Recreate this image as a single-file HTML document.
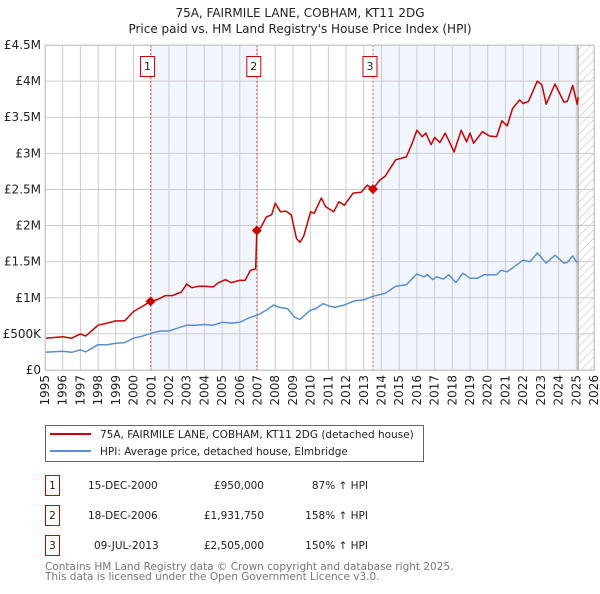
<!DOCTYPE html>
<html><head><meta charset="utf-8"><style>
body{margin:0;background:#fff;font-family:"DejaVu Sans","Liberation Sans",sans-serif;}
svg text{font-family:"DejaVu Sans","Liberation Sans",sans-serif;}
</style></head><body>
<svg id="c" width="600" height="590" viewBox="0 0 600 590" xmlns="http://www.w3.org/2000/svg">
<defs><pattern id="hatch" width="6" height="6" patternUnits="userSpaceOnUse" patternTransform="rotate(45)"><line x1="0" y1="0" x2="0" y2="6" stroke="#bbb" stroke-width="1"/></pattern></defs>
<text x="300" y="17" text-anchor="middle" font-size="12" fill="#222">75A, FAIRMILE LANE, COBHAM, KT11 2DG</text>
<text x="300" y="33" text-anchor="middle" font-size="12" fill="#222">Price paid vs. HM Land Registry's House Price Index (HPI)</text>
<g id="plot"></g>
<g>
<rect x="45.5" y="425.5" width="378" height="36" fill="#fff" stroke="#666"/>
<line x1="50" y1="434" x2="91" y2="434" stroke="#cc0000" stroke-width="2"/>
<text x="100" y="438" font-size="10.5" fill="#222">75A, FAIRMILE LANE, COBHAM, KT11 2DG (detached house)</text>
<line x1="50" y1="451" x2="91" y2="451" stroke="#5b8fd4" stroke-width="2"/>
<text x="100" y="455" font-size="10.5" fill="#222">HPI: Average price, detached house, Elmbridge</text>
</g>
<g font-size="10.5" fill="#222">
<g><rect x="45.5" y="475.5" width="14" height="20" fill="#fff" stroke="#cc0000"/><text x="52.5" y="489" text-anchor="middle">1</text><text x="88" y="489">15-DEC-2000</text><text x="264" y="489" text-anchor="end">£950,000</text><text x="368" y="489" text-anchor="end">87% ↑ HPI</text></g>
<g><rect x="45.5" y="505.5" width="14" height="20" fill="#fff" stroke="#cc0000"/><text x="52.5" y="519" text-anchor="middle">2</text><text x="88" y="519">18-DEC-2006</text><text x="264" y="519" text-anchor="end">£1,931,750</text><text x="368" y="519" text-anchor="end">158% ↑ HPI</text></g>
<g><rect x="45.5" y="535.5" width="14" height="20" fill="#fff" stroke="#cc0000"/><text x="52.5" y="549" text-anchor="middle">3</text><text x="94" y="549">09-JUL-2013</text><text x="264" y="549" text-anchor="end">£2,505,000</text><text x="368" y="549" text-anchor="end">150% ↑ HPI</text></g>
</g>
<text x="45" y="570" font-size="10.5" fill="#777">Contains HM Land Registry data © Crown copyright and database right 2025.</text>
<text x="45" y="580" font-size="10.5" fill="#777">This data is licensed under the Open Government Licence v3.0.</text>
</svg>
<script>
const yTicks=[0,0.5,1,1.5,2,2.5,3,3.5,4,4.5];
const yTickLabels=["£0","£500K","£1M","£1.5M","£2M","£2.5M","£3M","£3.5M","£4M","£4.5M"];
const xYears=[1995,1996,1997,1998,1999,2000,2001,2002,2003,2004,2005,2006,2007,2008,2009,2010,2011,2012,2013,2014,2015,2016,2017,2018,2019,2020,2021,2022,2023,2024,2025,2026];
const redT=[1995,1996,1996.5,1997,1997.3,1998,1998.5,1999,1999.5,2000,2000.5,2000.96,2001.3,2001.8,2002.2,2002.7,2003,2003.3,2003.7,2004,2004.5,2004.8,2005.2,2005.5,2006,2006.3,2006.6,2006.9,2006.96,2007.2,2007.5,2007.8,2008,2008.3,2008.6,2008.9,2009.2,2009.4,2009.6,2010,2010.2,2010.6,2010.85,2011.3,2011.6,2011.9,2012.4,2012.85,2013.2,2013.52,2013.9,2014.2,2014.8,2015.4,2015.7,2016,2016.3,2016.5,2016.8,2017,2017.3,2017.6,2018.1,2018.5,2018.8,2019,2019.2,2019.7,2020.1,2020.5,2020.8,2021.1,2021.4,2021.8,2022,2022.3,2022.8,2023.05,2023.3,2023.8,2024.3,2024.5,2024.8,2025.05,2025.1];
const redV=[0.44,0.46,0.44,0.50,0.47,0.62,0.65,0.68,0.68,0.81,0.88,0.95,0.97,1.03,1.03,1.08,1.19,1.14,1.16,1.16,1.15,1.21,1.25,1.21,1.24,1.24,1.38,1.40,1.93,1.98,2.12,2.15,2.31,2.19,2.20,2.15,1.82,1.77,1.85,2.19,2.17,2.38,2.26,2.19,2.33,2.28,2.45,2.46,2.56,2.505,2.63,2.68,2.91,2.95,3.12,3.32,3.23,3.28,3.12,3.22,3.15,3.28,3.02,3.32,3.16,3.28,3.14,3.30,3.24,3.23,3.45,3.38,3.62,3.74,3.69,3.72,4.00,3.95,3.68,3.96,3.71,3.72,3.94,3.68,3.78];
const hpiT=[1995,1996,1996.5,1997,1997.3,1998,1998.5,1999,1999.5,2000,2000.5,2001,2001.5,2002,2002.5,2003,2003.5,2004,2004.5,2005,2005.5,2006,2006.5,2007,2007.5,2007.9,2008.2,2008.7,2009.1,2009.4,2010,2010.3,2010.7,2011.1,2011.4,2011.9,2012.5,2013,2013.5,2014.2,2014.8,2015.4,2016,2016.4,2016.6,2016.9,2017.1,2017.5,2017.8,2018.2,2018.6,2019,2019.4,2019.8,2020.5,2020.75,2021.1,2021.6,2022,2022.4,2022.8,2023.3,2023.8,2024.3,2024.5,2024.8,2025,2025.1];
const hpiV=[0.245,0.26,0.245,0.28,0.25,0.35,0.35,0.37,0.38,0.44,0.47,0.51,0.54,0.54,0.58,0.62,0.62,0.63,0.62,0.66,0.65,0.66,0.72,0.76,0.83,0.90,0.87,0.85,0.73,0.70,0.83,0.85,0.92,0.88,0.87,0.90,0.96,0.97,1.02,1.06,1.16,1.18,1.33,1.29,1.32,1.25,1.29,1.26,1.32,1.21,1.34,1.27,1.27,1.32,1.32,1.38,1.36,1.45,1.52,1.50,1.62,1.48,1.59,1.48,1.49,1.58,1.50,1.50];
const saleT=[2000.96,2006.96,2013.52];
const saleV=[0.95,1.93175,2.505];
const saleLabels=["1","2","3"];

const L=45,R=594,T=45,B=370,Y0=1995,Y1=2026,VMAX=4.5;
const sx=t=>L+(t-Y0)/(Y1-Y0)*(R-L);
const sy=v=>B-v/VMAX*(B-T);
const NS="http://www.w3.org/2000/svg";
const g=document.getElementById('plot');
function mk(tag,at,parent){const e=document.createElementNS(NS,tag);for(const k in at)e.setAttribute(k,at[k]);(parent||g).appendChild(e);return e;}

const bg=mk('rect',{x:L,y:T,width:R-L,height:B-T,fill:'#fff'});


const s1=mk('rect',{x:sx(saleT[0]),y:T,width:sx(saleT[1])-sx(saleT[0]),height:B-T,fill:'#eef3fc',opacity:0.8});


const s2=mk('rect',{x:sx(saleT[2]),y:T,width:sx(2025.1)-sx(saleT[2]),height:B-T,fill:'#eef3fc',opacity:0.8});


const hz=mk('rect',{x:sx(2025.1),y:T,width:R-sx(2025.1),height:B-T,fill:'url(#hatch)'});



yTicks.forEach((v,i)=>{
  const ln=mk('line',{x1:L,x2:R,y1:sy(v),y2:sy(v),stroke:'#ccc','stroke-width':1});
  
  
  const tx=mk('text',{x:L-4,y:sy(v)+4,'text-anchor':'end','font-size':12,fill:'#222'});
  tx.textContent=yTickLabels[i];
  
  
});
xYears.forEach(y=>{
  const ln=mk('line',{x1:sx(y),x2:sx(y),y1:T,y2:B,stroke:'#ccc','stroke-width':1});
  
  
  const tx=mk('text',{x:0,y:0,'text-anchor':'end','font-size':12,fill:'#222',transform:`translate(${sx(y)+4},${B+5}) rotate(-90)`});
  tx.textContent=y;
  
  
});
const vl=mk('line',{x1:sx(2025.1),x2:sx(2025.1),y1:T,y2:B,stroke:'#888','stroke-width':1});



saleT.forEach((t,i)=>{
  const ln=mk('line',{x1:sx(t),x2:sx(t),y1:T,y2:B,stroke:'#e06060','stroke-width':1,'stroke-dasharray':'2,2'});
  
  
});

function path(ts,vs,col,name){
  const d=ts.map((t,i)=>(i?'L':'M')+sx(t).toFixed(1)+','+sy(vs[i]).toFixed(1)).join('');
  const p=mk('path',{d:d,fill:'none',stroke:col,'stroke-width':1.5,'stroke-linejoin':'round'});
  
  
}
path(hpiT,hpiV,'#5b8fd4','hpi-line');
path(redT,redV,'#cc0000','property-price-line');

saleT.forEach((t,i)=>{
  const x=sx(t),y=sy(saleV[i]);
  const pt=mk('path',{d:`M${x},${y-5}L${x+5},${y}L${x},${y+5}L${x-5},${y}Z`,fill:'#cc0000'});
  
  
  const bx=mk('rect',{x:x-10,y:56.5,width:14,height:20,fill:'#fff',stroke:'#cc0000'});
  
  
  const tx=mk('text',{x:x-3,y:70,'text-anchor':'middle','font-size':11,fill:'#222'});
  tx.textContent=saleLabels[i];
  
  
});
const fr=mk('rect',{x:L+0.5,y:T+0.5,width:R-L,height:B-T,fill:'none',stroke:'#ccc'});


</script>
</body></html>
